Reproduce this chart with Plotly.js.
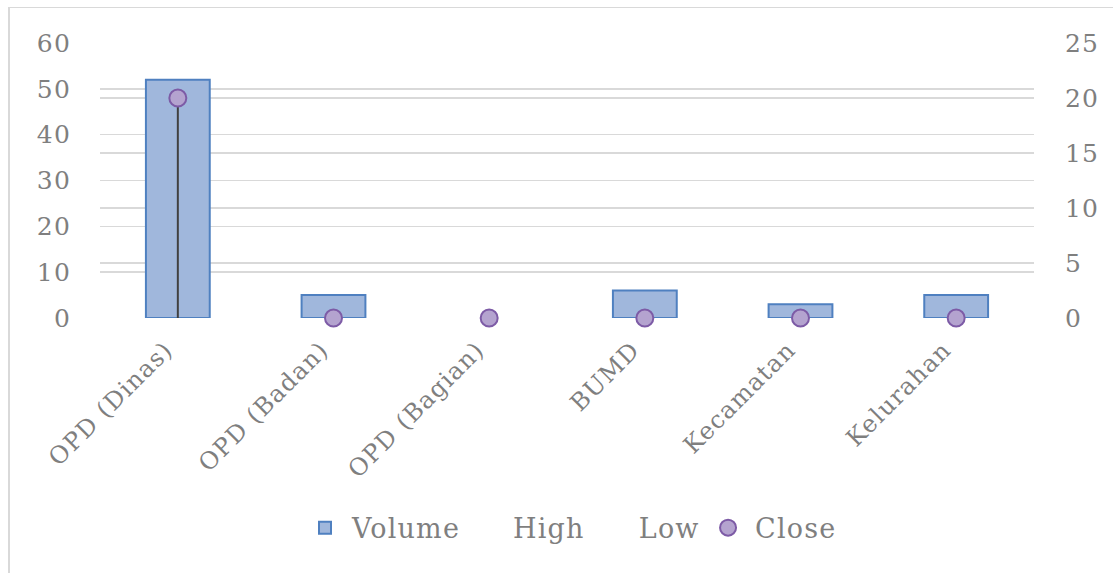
<!DOCTYPE html>
<html>
<head>
<meta charset="utf-8">
<script src="https://cdn.plot.ly/plotly-3.0.1.min.js"></script>
<style>
html,body{margin:0;padding:0;background:#fff;}
#wrap{position:relative;width:1113px;height:573px;}
#chart{width:1113px;height:573px;}
#frame{position:absolute;left:8px;top:7px;width:1105px;height:566px;border-left:2px solid #d9d9d9;border-top:1px solid #d9d9d9;pointer-events:none;}
#chart text{letter-spacing:1.2px;}
</style>
</head>
<body>
<div id="wrap"><div id="chart"></div><div id="frame"></div></div>
<script>
var categories = ["OPD (Dinas)", "OPD (Badan)", "OPD (Bagian)", "BUMD", "Kecamatan", "Kelurahan"];
var volume = [52, 5, 0, 6, 3, 5];
var high = [20, 0, 0, 0, 0, 0];
var low = [0, 0, 0, 0, 0, 0];
var close = [20, 0, 0, 0, 0, 0];
var leftTicks = [0, 10, 20, 30, 40, 50, 60];
var rightTicks = [0, 5, 10, 15, 20, 25];

var FONT = "DejaVu Serif, Liberation Serif, serif";
var GRAY = "#7f7f7f";

// high-low lines
var hlX = [], hlY = [];
categories.forEach(function(c, i){
  hlX.push(c, c, null);
  hlY.push(low[i], high[i], null);
});

var traces = [
  {type:"bar", name:"Volume", x:categories, y:volume, yaxis:"y", width:0.41,
   marker:{color:"#a0b7dc", line:{color:"#4f80c0", width:volume.map(function(v){return v>0?2:0;})}}},
  {type:"scatter", mode:"lines", name:"High-Low", x:hlX, y:hlY, yaxis:"y2",
   line:{color:"#404040", width:2}, showlegend:false, hoverinfo:"skip"},
  {type:"scatter", mode:"none", name:"High", x:categories, y:high, yaxis:"y2", showlegend:true},
  {type:"scatter", mode:"none", name:"Low", x:categories, y:low, yaxis:"y2", showlegend:true},
  {type:"scatter", mode:"markers", name:"Close", x:categories, y:close, yaxis:"y2", cliponaxis:false,
   marker:{size:17, color:"#b4a3cf", line:{color:"#7d5ba6", width:2}}}
];

var layout = {
  width:1113, height:573,
  margin:{l:100, r:79, t:43, b:255},
  paper_bgcolor:"#fff", plot_bgcolor:"#fff",
  font:{family:FONT, color:GRAY, size:24},
  bargap:0.59,
  xaxis:{type:"category", tickangle:-45, showgrid:false, zeroline:false, showline:false,
         ticks:"", ticklabelstandoff:12, ticklabelshift:-12, tickfont:{size:24, color:GRAY}, range:[-0.5, 5.5]},
  yaxis:{range:[0,60], tickvals:leftTicks, showgrid:true, gridcolor:"#d9d9d9", gridwidth:1.5,
         zeroline:false, showline:false, ticks:"", ticklabelstandoff:28, tickfont:{size:25, color:GRAY}},
  yaxis2:{range:[0,25], tickvals:rightTicks, overlaying:"y", side:"right", showgrid:true,
          gridcolor:"#d9d9d9", gridwidth:1.5, zeroline:false, showline:false, ticks:"",
          ticklabelstandoff:30, tickfont:{size:25, color:GRAY}},
  showlegend:true,
  legend:{orientation:"h", x:0.5, xanchor:"center", y:-0.764, yanchor:"middle",
          font:{size:27, color:GRAY}, itemwidth:44, traceorder:"normal"}
};

Plotly.newPlot("chart", traces, layout, {staticPlot:true});
</script>
</body>
</html>
